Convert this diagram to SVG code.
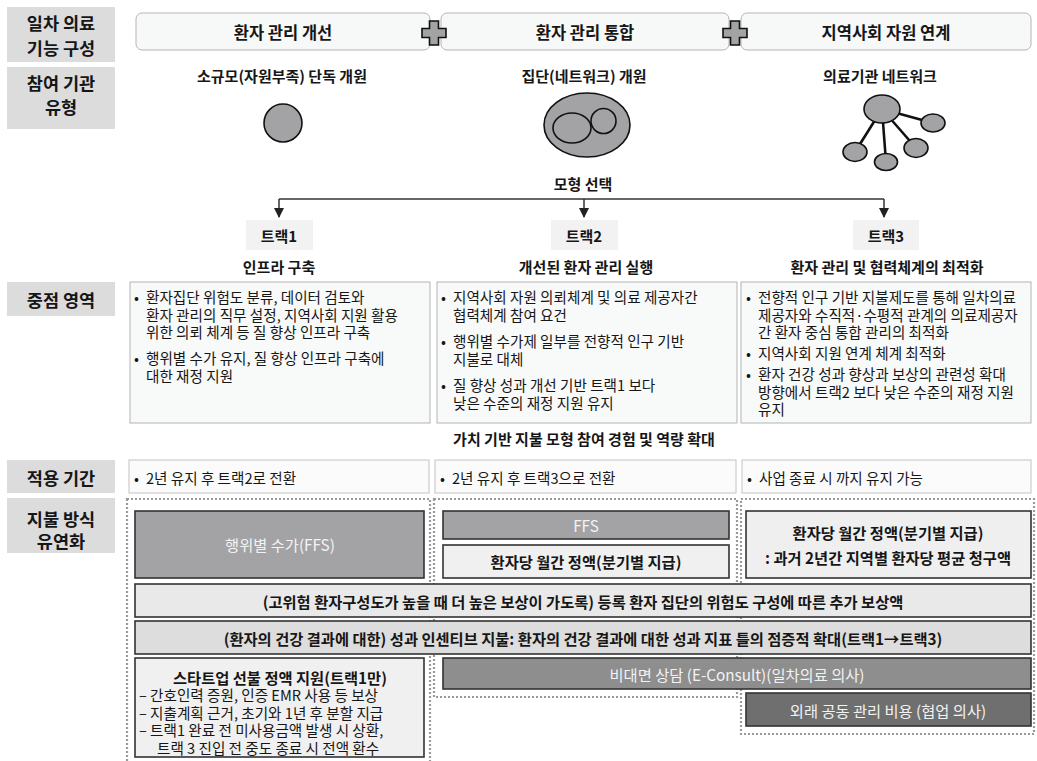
<svg xmlns="http://www.w3.org/2000/svg" width="1037" height="761" viewBox="0 0 1037 761">
<defs>
<style>
text{font-family:"Noto Sans CJK KR","Noto Sans",sans-serif;fill:#161616;dominant-baseline:central}
.lab{fill:#dcdcdd}
.labt{font-size:17.5px;font-weight:bold;text-anchor:middle}
.hdr{fill:#f7f8f8;stroke:#b5b5b5;stroke-width:1}
.hdrt{font-size:16.5px;font-weight:bold;text-anchor:middle}
.sub{font-size:15px;font-weight:bold;text-anchor:middle}
.icon{fill:#a3a3a5;stroke:#111;stroke-width:1.6}
.trk{fill:#f2f2f3}
.fbox{fill:#f8f9f9;stroke:#b3b3b3;stroke-width:1}
.pbox{fill:#fbfbfb;stroke:#c3c3c3;stroke-width:1}
.bt{font-size:14.6px}
.dot{fill:none;stroke:#9a9a9a;stroke-width:2.2;stroke-dasharray:2 2}
.sb{stroke:#333;stroke-width:1.6}
.pt{font-size:15.3px;font-weight:bold;text-anchor:middle}
.wt{font-size:15.3px;text-anchor:middle;fill:#f3f3f3}
.conn{fill:none;stroke:#333;stroke-width:1.5}
.b{font-weight:bold;font-size:15.3px}
</style>
<marker id="ah" viewBox="0 0 10 10" refX="9" refY="5" markerWidth="7" markerHeight="7" orient="auto">
<path d="M0,0 L10,5 L0,10 z" fill="#222"/>
</marker>
</defs>
<rect width="1037" height="761" fill="#ffffff"/>

<!-- left labels -->
<g id="label-function">
<rect class="lab" x="7" y="7" width="108" height="55"/>
<text class="labt"><tspan x="61" y="22">일차 의료</tspan><tspan x="61" y="47">기능 구성</tspan></text>
</g>
<g id="label-type">
<rect class="lab" x="7" y="67" width="108" height="62"/>
<text class="labt"><tspan x="61" y="82">참여 기관</tspan><tspan x="61" y="106">유형</tspan></text>
</g>
<g id="label-focus">
<rect class="lab" x="7" y="282" width="108" height="34"/>
<text class="labt" x="61" y="299">중점 영역</text>
</g>
<g id="label-period">
<rect class="lab" x="7" y="460" width="108" height="33"/>
<text class="labt" x="61" y="477">적용 기간</text>
</g>
<g id="label-payment">
<rect class="lab" x="7" y="498" width="108" height="55"/>
<text class="labt"><tspan x="61" y="518">지불 방식</tspan><tspan x="61" y="540">유연화</tspan></text>
</g>

<!-- header boxes -->
<g id="hdr1">
<rect class="hdr" x="136" y="13" width="294" height="37" rx="6"/>
<text class="hdrt" x="283" y="32">환자 관리 개선</text>
</g>
<g id="hdr2">
<rect class="hdr" x="441" y="13" width="288" height="37" rx="6"/>
<text class="hdrt" x="585" y="32">환자 관리 통합</text>
</g>
<g id="hdr3">
<rect class="hdr" x="741" y="13" width="290" height="37" rx="6"/>
<text class="hdrt" x="886" y="32">지역사회 자원 연계</text>
</g>
<g id="plus1">
<path class="icon" d="M429.5,21 h9 v7.5 h7.5 v9 h-7.5 v7.5 h-9 v-7.5 h-7.5 v-9 h7.5 z"/>
</g>
<g id="plus2">
<path class="icon" d="M730.5,21 h9 v7.5 h7.5 v9 h-7.5 v7.5 h-9 v-7.5 h-7.5 v-9 h7.5 z"/>
</g>

<!-- institution types -->
<g id="type1">
<text class="sub" x="282" y="75">소규모(자원부족) 단독 개원</text>
<circle class="icon" cx="283" cy="123" r="19"/>
</g>
<g id="type2">
<text class="sub" x="584" y="75">집단(네트워크) 개원</text>
<ellipse class="icon" cx="587" cy="125" rx="43" ry="32"/>
<ellipse fill="none" stroke="#111" stroke-width="1.6" cx="572" cy="128" rx="19" ry="15"/>
<ellipse fill="none" stroke="#111" stroke-width="1.6" cx="603.5" cy="121" rx="12.5" ry="12.5"/>
</g>
<g id="type3">
<text class="sub" x="880" y="75">의료기관 네트워크</text>
<g stroke="#111" stroke-width="2.6">
<line x1="882" y1="109" x2="933" y2="123"/>
<line x1="882" y1="109" x2="855" y2="152"/>
<line x1="882" y1="109" x2="886" y2="162"/>
<line x1="882" y1="109" x2="916" y2="148"/>
</g>
<ellipse class="icon" cx="882" cy="109" rx="18" ry="14"/>
<ellipse class="icon" cx="933" cy="123" rx="12" ry="9"/>
<ellipse class="icon" cx="855" cy="152" rx="12" ry="9.5"/>
<ellipse class="icon" cx="886" cy="162" rx="11.5" ry="8.5"/>
<ellipse class="icon" cx="916" cy="148" rx="12" ry="9.5"/>
</g>

<g id="model-select">
<text class="sub" x="583" y="183">모형 선택</text>
</g>

<!-- connectors -->
<g id="connectors">
<path class="conn" d="M279,199 H884"/>
<path class="conn" d="M279,199 V217" marker-end="url(#ah)"/>
<path class="conn" d="M584,199 V217" marker-end="url(#ah)"/>
<path class="conn" d="M884,199 V217" marker-end="url(#ah)"/>
</g>

<!-- tracks -->
<g id="track1">
<rect class="trk" x="246" y="220" width="67" height="30"/>
<text class="sub" x="279" y="235">트랙1</text>
<text class="sub" x="279" y="266">인프라 구축</text>
</g>
<g id="track2">
<rect class="trk" x="551" y="220" width="67" height="30"/>
<text class="sub" x="584" y="235">트랙2</text>
<text class="sub" x="586" y="266">개선된 환자 관리 실행</text>
</g>
<g id="track3">
<rect class="trk" x="853" y="220" width="66" height="30"/>
<text class="sub" x="886" y="235">트랙3</text>
<text class="sub" x="887" y="266">환자 관리 및 협력체계의 최적화</text>
</g>

<!-- focus areas -->
<g id="focus1">
<rect class="fbox" x="130" y="282" width="300" height="141"/>
<text class="bt"><tspan x="134" y="296">•</tspan><tspan x="146" y="296">환자집단 위험도 분류, 데이터 검토와</tspan><tspan x="146" y="313.5">환자 관리의 직무 설정, 지역사회 지원 활용</tspan><tspan x="146" y="331">위한 의뢰 체계 등 질 향상 인프라 구축</tspan><tspan x="134" y="357">•</tspan><tspan x="146" y="357">행위별 수가 유지, 질 향상 인프라 구축에</tspan><tspan x="146" y="374.5">대한 재정 지원</tspan></text>
</g>
<g id="focus2">
<rect class="fbox" x="437" y="282" width="300" height="141"/>
<text class="bt"><tspan x="441" y="296">•</tspan><tspan x="453" y="296">지역사회 자원 의뢰체계 및 의료 제공자간</tspan><tspan x="453" y="313.5">협력체계 참여 요건</tspan><tspan x="441" y="340">•</tspan><tspan x="453" y="340">행위별 수가제 일부를 전향적 인구 기반</tspan><tspan x="453" y="357.5">지불로 대체</tspan><tspan x="441" y="384">•</tspan><tspan x="453" y="384">질 향상 성과 개선 기반 트랙1 보다</tspan><tspan x="453" y="401.5">낮은 수준의 재정 지원 유지</tspan></text>
</g>
<g id="focus3">
<rect class="fbox" x="741" y="282" width="290" height="141"/>
<text class="bt"><tspan x="746" y="296">•</tspan><tspan x="758" y="296">전향적 인구 기반 지불제도를 통해 일차의료</tspan><tspan x="758" y="313.5">제공자와 수직적·수평적 관계의 의료제공자</tspan><tspan x="758" y="331">간 환자 중심 통합 관리의 최적화</tspan><tspan x="746" y="352">•</tspan><tspan x="758" y="352">지역사회 지원 연계 체계 최적화</tspan><tspan x="746" y="373">•</tspan><tspan x="758" y="373">환자 건강 성과 향상과 보상의 관련성 확대</tspan><tspan x="758" y="390.5">방향에서 트랙2 보다 낮은 수준의 재정 지원</tspan><tspan x="758" y="408">유지</tspan></text>
</g>

<g id="value-note">
<text class="sub" x="584" y="438">가치 기반 지불 모형 참여 경험 및 역량 확대</text>
</g>

<!-- period -->
<g id="period1">
<rect class="pbox" x="129" y="460" width="300" height="33"/>
<text class="bt"><tspan x="134" y="477">•</tspan><tspan x="146" y="477">2년 유지 후 트랙2로 전환</tspan></text>
</g>
<g id="period2">
<rect class="pbox" x="435" y="460" width="301" height="33"/>
<text class="bt"><tspan x="440" y="477">•</tspan><tspan x="452" y="477">2년 유지 후 트랙3으로 전환</tspan></text>
</g>
<g id="period3">
<rect class="pbox" x="742" y="460" width="289" height="33"/>
<text class="bt"><tspan x="747" y="477">•</tspan><tspan x="759" y="477">사업 종료 시 까지 유지 가능</tspan></text>
</g>

<!-- payment dotted areas -->
<g id="pay-area1"><rect class="dot" x="127" y="499" width="303" height="280"/></g>
<g id="pay-area2"><rect class="dot" x="434" y="499" width="303" height="198"/></g>
<g id="pay-area3"><rect class="dot" x="741" y="499" width="293" height="235"/></g>

<g id="ffs1">
<rect class="sb" fill="#a3a3a5" x="135" y="511" width="289" height="67"/>
<text class="wt" x="280" y="544">행위별 수가(FFS)</text>
</g>
<g id="ffs2">
<rect class="sb" fill="#a3a3a5" x="443" y="511" width="286" height="28"/>
<text class="wt" x="586" y="525">FFS</text>
</g>
<g id="capitation2">
<rect class="sb" fill="#f0f0f0" x="443" y="545" width="286" height="33"/>
<text class="pt" x="586" y="561">환자당 월간 정액(분기별 지급)</text>
</g>
<g id="capitation3">
<rect class="sb" fill="#efefef" x="746" y="511" width="285" height="67"/>
<text class="pt"><tspan x="888" y="532">환자당 월간 정액(분기별 지급)</tspan><tspan x="888" y="557">: 과거 2년간 지역별 환자당 평균 청구액</tspan></text>
</g>
<g id="risk-adjust">
<rect class="sb" fill="#e9e9e9" x="135" y="584" width="896" height="33"/>
<text class="pt" x="583" y="600.5">(고위험 환자구성도가 높을 때 더 높은 보상이 가도록) 등록 환자 집단의 위험도 구성에 따른 추가 보상액</text>
</g>
<g id="incentive">
<rect class="sb" fill="#dddddd" x="135" y="621" width="896" height="33"/>
<text class="pt" x="583" y="637.5">(환자의 건강 결과에 대한) 성과 인센티브 지불: 환자의 건강 결과에 대한 성과 지표 틀의 점증적 확대(트랙1→트랙3)</text>
</g>
<g id="startup">
<rect class="sb" fill="#f0f0f0" x="135" y="658" width="289" height="99"/>
<text class="bt"><tspan class="b" x="280" y="676.5" text-anchor="middle">스타트업 선불 정액 지원(트랙1만)</tspan><tspan x="139" y="694">– 간호인력 증원, 인증 EMR 사용 등 보상</tspan><tspan x="139" y="711.5">– 지출계획 근거, 초기와 1년 후 분할 지급</tspan><tspan x="139" y="729">– 트랙1 완료 전 미사용금액 발생 시 상환,</tspan><tspan x="157" y="746.5">트랙 3 진입 전 중도 종료 시 전액 환수</tspan></text>
</g>
<g id="econsult">
<rect class="sb" fill="#8e8e8e" x="443" y="658" width="588" height="31"/>
<text class="wt" x="737" y="673.5">비대면 상담 (E-Consult)(일차의료 의사)</text>
</g>
<g id="comanage">
<rect class="sb" fill="#6f6f6f" x="746" y="693" width="285" height="33"/>
<text class="wt" x="888" y="709.5">외래 공동 관리 비용 (협업 의사)</text>
</g>
</svg>
